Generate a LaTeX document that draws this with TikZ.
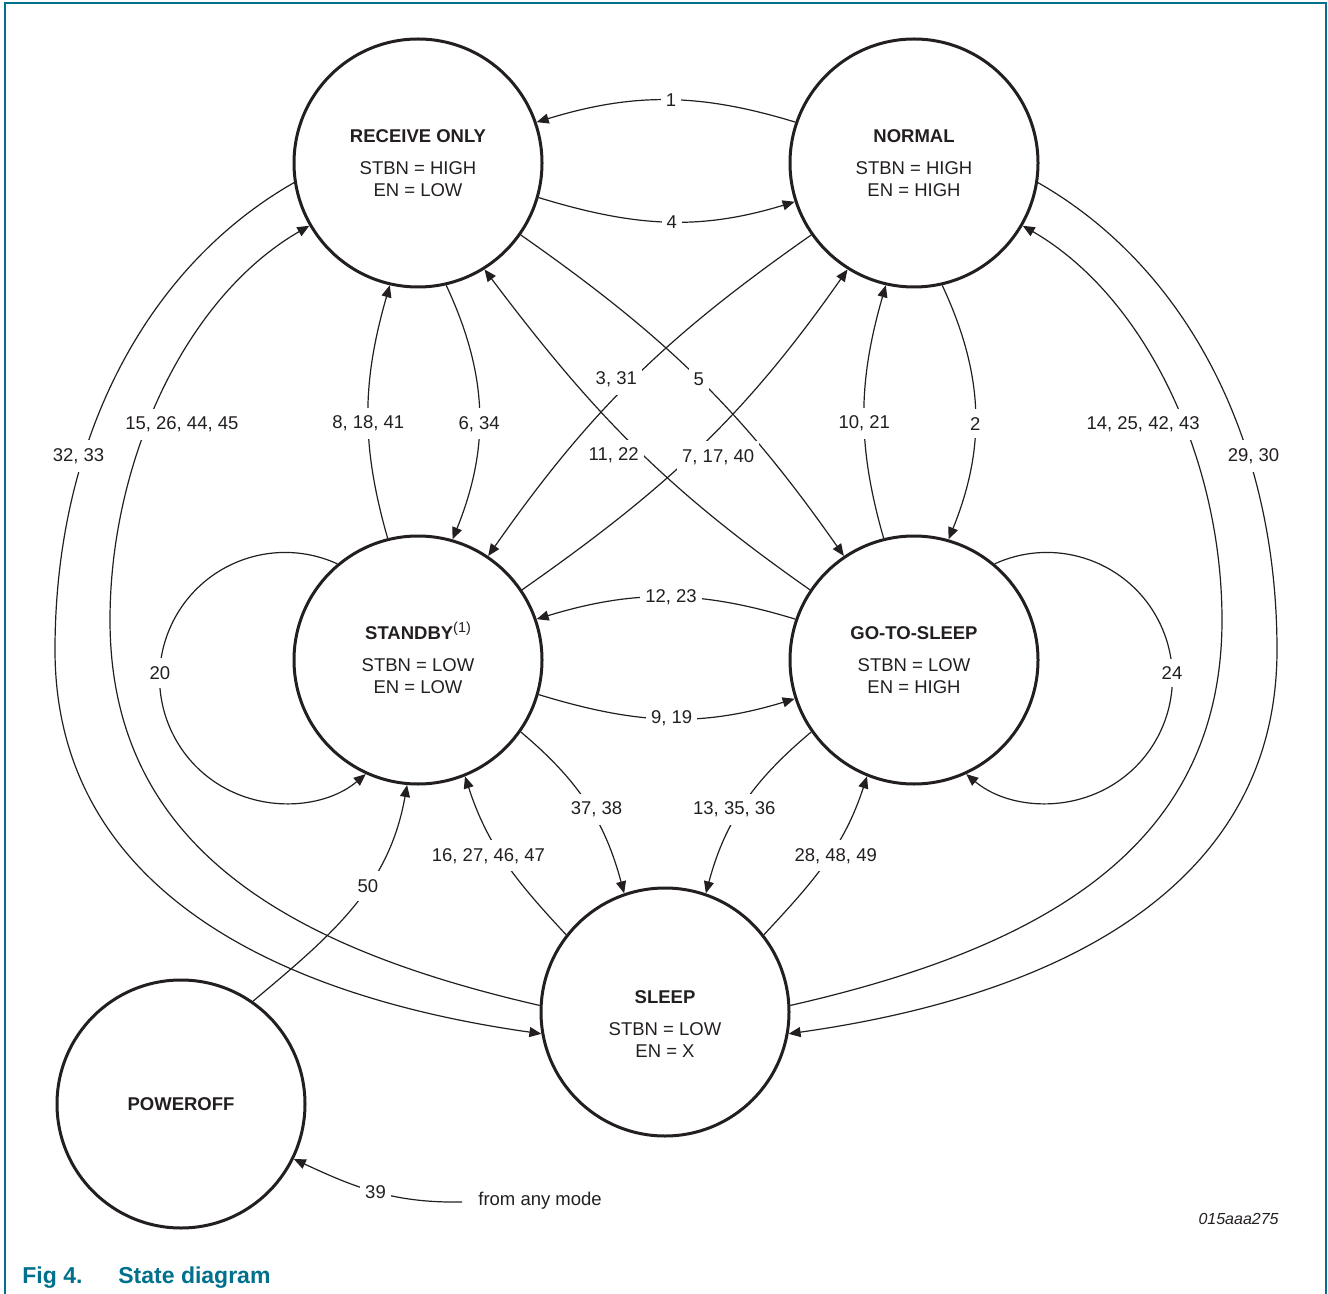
\documentclass[tikz,border=0pt]{standalone}
\usepackage{fontspec}
\setmainfont{Liberation Sans}
\usetikzlibrary{arrows.meta}
\definecolor{nxpteal}{RGB}{0,112,140}
\definecolor{inkc}{RGB}{35,31,32}
\begin{document}
\begin{tikzpicture}[x=0.5pt, y=0.5pt,
  txt/.style={font=\fontsize{9.25}{11}\selectfont, text=inkc},
  state/.style={circle, draw=inkc, line width=1.5pt, minimum size=124pt, inner sep=0pt, align=center, txt},
  statetext/.style={align=center, inner sep=0pt, txt},
  conn/.style={draw=inkc, line width=0.6pt, -{Triangle[length=6pt,width=5pt]}},
  lbl/.style={fill=white, inner xsep=2.5pt, inner ysep=4pt, txt},
  frameline/.style={draw=nxpteal, line width=0.6pt},
  captxt/.style={anchor=base west, inner sep=0pt, font=\fontsize{11.5}{13}\selectfont\bfseries, text=nxpteal}
]
\useasboundingbox (0,0) rectangle (1328,-1294);
\draw[frameline] (5,-1294) -- (5,-3) -- (1326,-3) -- (1326,-1294);

% states
\node[state] (ro) at (418,-163) {\textbf{RECEIVE ONLY}\\[5pt]STBN = HIGH\\EN = LOW};
\node[state] (n)  at (914,-163) {\textbf{NORMAL}\\[5pt]STBN = HIGH\\EN = HIGH};
\node[state] (sb) at (418,-660) {\textbf{STANDBY}\smash{\raisebox{3.6pt}{\fontsize{7.2}{8}\selectfont(1)}}\\[5pt]STBN = LOW\\EN = LOW};
\node[state] (gs) at (914,-660) {\textbf{GO-TO-SLEEP}\\[5pt]STBN = LOW\\EN = HIGH};
\node[state] (sl) at (665,-1012) {};
\node[statetext] (sltext) at (665,-1024) {\textbf{SLEEP}\\[5pt]STBN = LOW\\EN = X};
\node[state] (po) at (181,-1104) {\textbf{POWEROFF}};

% horizontal pairs
\draw[conn] (n.161) to[out=163,in=17] node[lbl,xshift=2.5pt]{1} (ro.19);
\draw[conn] (ro.-16) to[out=-17,in=-163] node[lbl,xshift=2.5pt]{4} (n.-162);
\draw[conn] (gs.161) to[out=163,in=17] node[lbl,xshift=2.5pt]{12, 23} (sb.19);
\draw[conn] (sb.-16) to[out=-17,in=-163] node[lbl,xshift=2.5pt]{9, 19} (gs.-162);

% vertical pairs
\draw[conn] (ro.-77) to[out=-65,in=68] node[lbl,pos=0.55]{6, 34} (sb.74);
\draw[conn] (sb.104) to[out=106,in=-106] node[lbl,pos=0.45]{8, 18, 41} (ro.-103);
\draw[conn] (n.-77) to[out=-65,in=68] node[lbl,pos=0.55]{2} (gs.74);
\draw[conn] (gs.104) to[out=106,in=-106] node[lbl,pos=0.45]{10, 21} (n.-103);

% diagonals
\draw[conn] (ro.-35) to[out=-35,in=125] node[lbl]{5} (gs.124);
\draw[conn] (n.-145) to[out=-145,in=55] node[lbl,xshift=-8.5pt]{3, 31} (sb.56);
\draw[conn] (gs.146) to[out=145,in=-53] node[lbl,xshift=-9.5pt,yshift=-5.5pt]{11, 22} (ro.-58);
\draw[conn] (sb.34) to[out=35,in=-125] node[lbl,xshift=8.5pt,yshift=-5.5pt]{7, 17, 40} (n.-122);

% to and from sleep
\draw[conn] (sb.-35) to[out=-40,in=105] node[lbl,pos=0.54,xshift=3pt]{37, 38} (sl.109);
\draw[conn] (gs.-145) to[out=-140,in=75] node[lbl,pos=0.54,xshift=-3pt]{13, 35, 36} (sl.71);
\draw[conn] (sl.142) to[out=133,in=-72] node[lbl,pos=0.54,xshift=-6.5pt]{16, 27, 46, 47} (sb.-68);
\draw[conn] (sl.38) to[out=47,in=-108] node[lbl,pos=0.54,xshift=3pt]{28, 48, 49} (gs.-112);

% poweroff
\draw[conn] (po.55) to[out=40,in=-100] node[lbl,pos=0.6]{50} (sb.-95);

% self loops
\draw[conn] (sb.130) arc[start angle=65.4, end angle=310, radius=125.5];
\node[lbl] (l20) at (160,-673) {20};
\draw[conn] (gs.50) arc[start angle=114.6, end angle=-130, radius=125.5];
\node[lbl] (l24) at (1172,-673) {24};

% long outer curves
\coordinate (w1) at (55,-650);
\coordinate (w2) at (110,-620);
\coordinate (w3) at (1277,-650);
\coordinate (w4) at (1222,-620);
\draw[conn] (ro.189) .. controls (146,-267) and (55,-440) .. (w1) node[lbl,pos=0.67,xshift=-2.5pt]{32, 33}
  .. controls (55,-880) and (261,-994) .. (sl.190);
\draw[conn] (sl.177) .. controls (294,-949) and (110,-850) .. (w2)
  .. controls (110,-460) and (186,-297) .. (ro.210) node[lbl,pos=0.43,xshift=16pt,yshift=-2.5pt]{15, 26, 44, 45};
\draw[conn] (n.-9) .. controls (1186,-267) and (1277,-440) .. (w3) node[lbl,pos=0.67,xshift=2.5pt]{29, 30}
  .. controls (1277,-880) and (1071,-994) .. (sl.-10);
\draw[conn] (sl.3) .. controls (1038,-949) and (1222,-850) .. (w4)
  .. controls (1222,-460) and (1146,-297) .. (n.-30) node[lbl,pos=0.43,xshift=-19.5pt,yshift=-2.5pt]{14, 25, 42, 43};

% from any mode
\coordinate (c39) at (462,-1202);
\draw[conn] (c39) to[out=181,in=-25] node[lbl,pos=0.5]{39} (po.-26);
\node[anchor=west, inner sep=0pt, txt] (fam) at (478,-1201) {from any mode};

\node[anchor=east, inner sep=0pt, font=\fontsize{8}{10}\selectfont\itshape, text=inkc] (code) at (1279,-1219) {015aaa275};

\node[captxt] (fig) at (22,-1283) {Fig 4.};
\node[captxt] (cap) at (118,-1283) {State diagram};
\end{tikzpicture}
\end{document}
